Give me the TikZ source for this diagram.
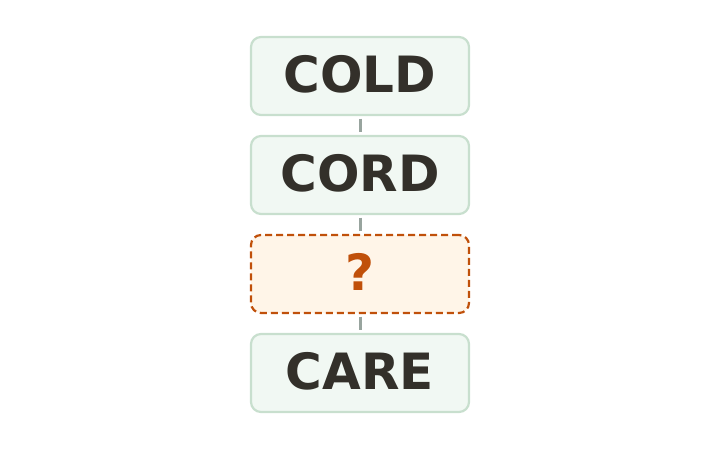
\documentclass[tikz,border=0pt]{standalone}
\usepackage{fontspec}
\setmainfont{DejaVu Sans}
\definecolor{boxfill}{HTML}{F1F8F3}
\definecolor{boxline}{HTML}{C8DFCE}
\definecolor{ink}{HTML}{33302A}
\definecolor{gapfill}{HTML}{FFF5E8}
\definecolor{gapline}{HTML}{C0500A}
\definecolor{linkgray}{HTML}{98A49E}
\tikzset{
  wordbox/.style={draw=boxline, fill=boxfill, line width=2.2pt, rounded corners=10pt,
    minimum width=218pt, minimum height=78pt, text=ink,
    text height=36.5pt, text depth=3pt,
    font=\fontsize{50}{50}\selectfont\bfseries},
  gapbox/.style={wordbox, draw=gapline, fill=gapfill, text=gapline,
    dash pattern=on 7pt off 4pt},
  linkline/.style={draw=linkgray, line width=3pt, shorten <=2.5pt, shorten >=2.5pt}
}

\begin{document}
\begin{tikzpicture}[x=1pt,y=-1pt]
\useasboundingbox (0,0) rectangle (720,450);
\node[wordbox] (cold) at (360,76) {COLD};
\node[wordbox] (cord) at (360,175) {CORD};
\node[gapbox] (gap) at (360,274) {?};
\node[wordbox] (care) at (360,373) {CARE};
\draw[linkline] (cold) -- (cord);
\draw[linkline] (cord) -- (gap);
\draw[linkline] (gap) -- (care);
\end{tikzpicture}
\end{document}
